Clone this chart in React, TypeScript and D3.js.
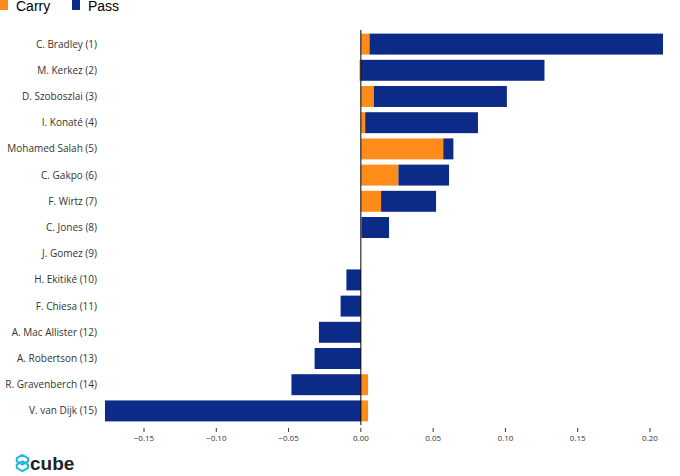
import * as d3 from 'd3'

const players = ['C. Bradley (1)', 'M. Kerkez (2)', 'D. Szoboszlai (3)', 'I. Konaté (4)', 'Mohamed Salah (5)', 'C. Gakpo (6)', 'F. Wirtz (7)', 'C. Jones (8)', 'J. Gomez (9)', 'H. Ekitiké (10)', 'F. Chiesa (11)', 'A. Mac Allister (12)', 'A. Robertson (13)', 'R. Gravenberch (14)', 'V. van Dijk (15)']
const carry = [0.006, -0.001, 0.009, 0.003, 0.057, 0.026, 0.014, 0.0005, 0, 0, 0, 0, 0, 0.005, 0.005]
const pass = [0.203, 0.127, 0.092, 0.078, 0.007, 0.035, 0.038, 0.019, 0, -0.010, -0.014, -0.029, -0.032, -0.048, -0.177]
const ticks = [-0.15, -0.1, -0.05, 0, 0.05, 0.1, 0.15, 0.2]

const CARRY = '#ff8c1a'
const PASS = '#0c2a87'

export default function App() {
  const x = d3.scaleLinear().domain([-0.15, 0.2]).range([144, 650])
  const y = d3.scaleBand().domain(players).range([31, 424]).paddingInner(0.2).paddingOuter(0.1)
  const font = '"Open Sans", sans-serif'
  return (
    <svg width={680} height={476} style={{ position: 'absolute', left: 0, top: 0 }} fontFamily={font}>
      <rect x={0} y={0} width={8} height={10} fill={CARRY} />
      <text x={16} y={11} fontSize={14} fontFamily="Arial, sans-serif">Carry</text>
      <rect x={72} y={0} width={8} height={10} fill={PASS} />
      <text x={88} y={11} fontSize={14} fontFamily="Arial, sans-serif">Pass</text>
      {players.map((p, i) => {
        const c = carry[i]
        const ps = pass[i]
        const start = Math.sign(ps) === Math.sign(c) ? c : 0
        const yy = y(p)!
        return (
          <g key={p}>
            <text x={97} y={yy + y.bandwidth() / 2} dy="0.35em" textAnchor="end" fontSize={10} fill="#333">{p}</text>
            {c !== 0 && <rect x={x(Math.min(0, c))} y={yy} width={Math.abs(x(c) - x(0))} height={y.bandwidth()} fill={CARRY} />}
            {ps !== 0 && <rect x={x(Math.min(start, start + ps))} y={yy} width={Math.abs(x(ps) - x(0))} height={y.bandwidth()} fill={PASS} />}
          </g>
        )
      })}
      <line x1={x(0)} x2={x(0)} y1={30} y2={425} stroke="#000" strokeWidth={1} />
      {ticks.map(t => (
        <g key={t} transform={`translate(${x(t)},0)`}>
          <line y1={428} y2={432} stroke="#333" />
          <text y={441} textAnchor="middle" fontSize={8} fill="#333">{t === 0 ? '0.00' : d3.format('.2f')(t).replace('-', '−')}</text>
        </g>
      ))}
      <g transform="translate(16,455)">
        <path d="M8 0 L15 4 L15 8 L8 12 L1 8 L1 4 Z M8 8 L15 12 L15 16 L8 20 L1 16 L1 12 Z" fill="none" stroke="#22b5e0" strokeWidth={2.5} transform="scale(0.8)" />
        <text x={14} y={15} fontSize={19} fontWeight="bold" fill="#222" fontFamily="Arial, sans-serif">cube</text>
      </g>
    </svg>
  )
}
